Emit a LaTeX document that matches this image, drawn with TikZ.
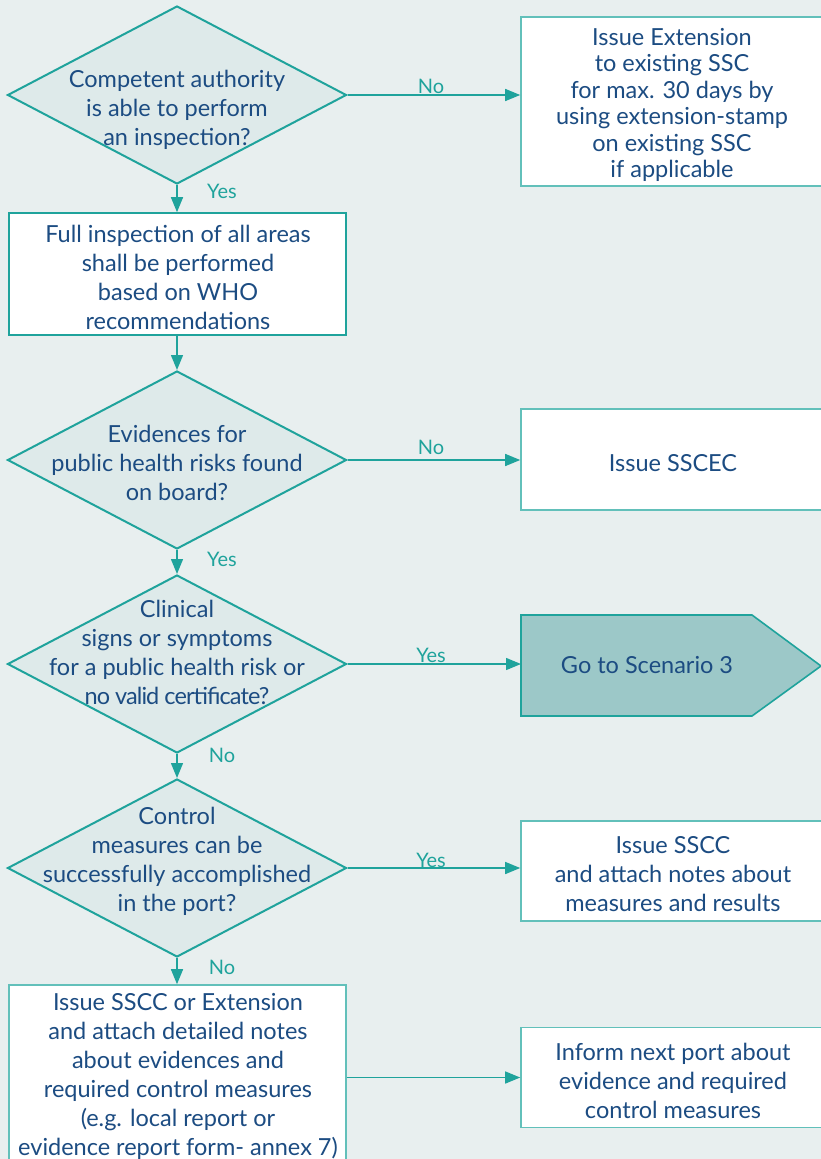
\documentclass[tikz,border=0pt]{standalone}
\usepackage{fontspec}
\setmainfont{Lato}
\usetikzlibrary{shapes.geometric,arrows.meta}
\definecolor{bg}{HTML}{E8EFEF}
\definecolor{diafill}{HTML}{DEEAEA}
\definecolor{teal}{HTML}{1FA39C}
\definecolor{lteal}{HTML}{62C0BA}
\definecolor{navy}{HTML}{1C4C82}
\definecolor{pentfill}{HTML}{9CC8C8}
\tikzset{
  dia/.style={shape=diamond, draw=teal, fill=diafill, line width=2pt, inner sep=0pt,
    minimum width=339pt, minimum height=178pt},
  txt/.style={text=navy, align=center, font=\fontsize{23.5}{29}\selectfont, inner sep=0pt},
  boxd/.style={draw=teal, fill=white, line width=1.6pt, inner sep=0pt},
  boxl/.style={draw=lteal, fill=white, line width=1.6pt, inner sep=0pt},
  conn/.style={draw=teal, line width=1.4pt, -{Triangle[length=15pt,width=12pt]}},
  lbl/.style={text=teal, font=\fontsize{20}{22}\selectfont, inner sep=0pt},
}
\begin{document}
\begin{tikzpicture}[x=1pt,y=-1pt]
\useasboundingbox (0,0) rectangle (821,1159);
\clip (0,0) rectangle (821,1159);
\fill[bg] (0,0) rectangle (821,1159);
% diamonds
\node[dia] (d1) at (177,95) {};
\node[txt] (d1t) at (177,109.5) {Competent authority\\is able to perform\\an inspection?};
\node[dia] (d2) at (177,460) {};
\node[txt] (d2t) at (177,462.5) {Evidences for\\public health risks found\\on board?};
\node[dia] (d3) at (177,664) {};
\node[txt] (d3t) at (177,652.5) {Clinical\\signs or symptoms\\for a public health risk or\\{\addfontfeatures{LetterSpace=-4}no valid certificate?}};
\node[dia] (d4) at (177,868) {};
\node[txt] (d4t) at (177,861.5) {Control\\measures can be\\successfully accomplished\\in the port?};
% boxes
\node[boxd, minimum width=337pt, minimum height=122pt] (b2) at (177.5,274) {};
\node[txt] (b2t) at (178,277.5) {Full inspection of all areas\\shall be performed\\based on WHO\\recommendations};
\node[boxl, minimum width=304pt, minimum height=169pt] (r1) at (673,101.5) {};
\node[txt, font=\fontsize{23.5}{26.5}\selectfont] (r1t) at (672,105) {Issue Extension\\to existing SSC\\for max. 30 days by\\using extension-stamp\\on existing SSC\\if applicable};
\node[boxl, minimum width=304pt, minimum height=101pt] (r2) at (673,459.5) {};
\node[txt] (r2t) at (673,463.5) {Issue SSCEC};
\node[boxl, minimum width=304pt, minimum height=100pt] (r4) at (673,871) {};
\node[txt] (r4t) at (673,874.5) {Issue SSCC\\and attach notes about\\measures and results};
\node[boxl, minimum width=337pt, minimum height=200pt] (b5) at (177.5,1085) {};
\node[txt] (b5t) at (178,1076.5) {Issue SSCC or Extension\\and attach detailed notes\\about evidences and\\required control measures\\(e.g. local report or\\evidence report form- annex 7)};
\node[boxl, minimum width=304pt, minimum height=100pt] (r5) at (673,1077.5) {};
\node[txt] (r5t) at (673,1080.5) {Inform next port about\\evidence and required\\control measures};
% pentagon
\draw[draw=teal, fill=pentfill, line width=1.6pt] (521,615) -- (752,615) -- (821,666) -- (752,716) -- (521,716) -- cycle;
\coordinate (r3) at (521,666);
\node[txt] (r3t) at (647,665.5) {Go to Scenario 3};
% connectors
\draw[conn] (d1.east) -- (r1.west |- d1.east);
\node[lbl] (l1) at (431,86) {No};
\draw[conn] (d1.south) -- (d1.south |- b2.north);
\node[lbl] (l2) at (222,191) {Yes};
\draw[conn] (d2.north |- b2.south) -- (d2.north);
\draw[conn] (d2.east) -- (r2.west |- d2.east);
\node[lbl] (l3) at (431,447) {No};
\draw[conn] (d2.south) -- (d3.north);
\node[lbl] (l4) at (222,559) {Yes};
\draw[conn] (d3.east) -- (r3 |- d3.east);
\node[lbl] (l5) at (431,655) {Yes};
\draw[conn] (d3.south) -- (d4.north);
\node[lbl] (l6) at (222,755) {No};
\draw[conn] (d4.east) -- (r4.west |- d4.east);
\node[lbl] (l7) at (431,860) {Yes};
\draw[conn] (d4.south) -- (d4.south |- b5.north);
\node[lbl] (l8) at (222,967) {No};
\draw[conn] (b5.east |- r5.west) -- (r5.west);
\end{tikzpicture}
\end{document}
